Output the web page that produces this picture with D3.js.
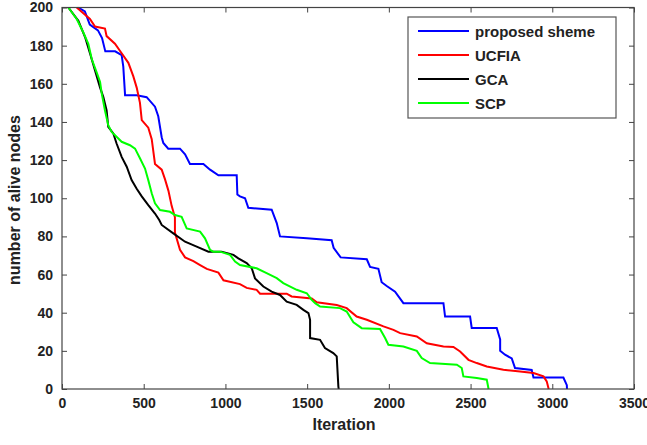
<!DOCTYPE html>
<html>
<head>
<meta charset="utf-8">
<script src="https://cdn.jsdelivr.net/npm/d3@7"></script>
<style>
  body { margin: 0; background: #fff; }
  text { font-family: "Liberation Sans", Arial, sans-serif; font-weight: bold; fill: #222; }
</style>
</head>
<body>
<div id="chart-area"></div>
<script>
// Series values: [iteration, alive nodes]
var proposed = [[100,200],[140,198],[170,191],[220,188],[245,184],[265,177],[325,177],[365,175],[375,169],[386,154],
    [457,154],[518,153],[569,148],[589,143],[610,132],[620,129],[650,126],[722,126],[753,123],[783,118],[865,118],
    [906,115],[957,112],[1069,112],[1073,102],[1089,101],[1120,100],[1140,95],[1283,94],[1314,87],[1334,80],
    [1498,79],[1650,78],[1662,74],[1705,69],[1865,68],[1885,64],[1936,63],[1956,56],[1987,54],[2038,51],[2089,45],
    [2334,45],[2344,38],[2497,38],[2507,32],[2660,32],[2681,26],[2681,20],[2711,18],[2752,16],[2772,11],[2874,10],
    [2885,6],[3068,6],[3089,2],[3090,0]];
var ucfia = [[90,200],[171,194],[202,190],[263,189],[273,185],[324,181],[365,176],[406,171],[436,164],[457,158],
    [477,150],[488,141],[528,137],[549,131],[569,118],[610,115],[630,110],[651,104],[671,96],[691,90],[691,82],
    [722,73],[753,69],[804,67],[845,65],[886,63],[957,61],[988,57],[1089,55],[1130,53],[1191,52],[1212,50],
    [1375,50],[1405,48.5],[1528,47.5],[1559,45.5],[1681,44],[1742,42.4],[1803,38],[1865,36.3],[1967,32.8],
    [2028,31],[2069,29.3],[2171,27.5],[2232,24],[2334,22.3],[2395,22],[2436,19.7],[2487,15.3],[2538,13.6],
    [2599,11.8],[2701,10.1],[2803,9.2],[2885,8.4],[2946,6.6],[2966,4],[2978,0]];
var gca = [[39,200],[100,193],[141,184.5],[171,176],[202,167],[233,158],[253,153],[273,146],[283,137.4],[314,134],
    [334,128.7],[365,121.7],[396,116.5],[426,109.5],[457,105],[488,101],[528,96.4],[569,92],[595,88.6],[610,86],
    [681,81.6],[753,77.2],[824,74.6],[896,72],[977,72],[1049,70.3],[1079,68.5],[1130,66],[1161,63.3],[1181,58],
    [1232,53.7],[1283,51],[1334,49.3],[1375,45.8],[1436,44.1],[1477,41.5],[1508,39.8],[1518,36.3],[1518,26.7],
    [1579,25.8],[1609,21.5],[1660,18.8],[1681,17.1],[1691,1.4],[1693,0]];
var scp = [[39,200],[90,194],[130,187],[161,181],[182,173],[212,166],[233,161],[243,155],[263,146],[283,138.3],
    [304,134.8],[365,129.6],[416,127.8],[447,126],[477,121],[508,115.6],[528,109.5],[549,102.6],[569,97.3],
    [600,93.8],[661,92.9],[691,91.2],[732,90.3],[763,84.2],[845,82.5],[875,79],[906,72.9],[926,72],[967,72],
    [1028,70.3],[1059,66.8],[1089,65],[1191,63.3],[1252,60.7],[1314,58.1],[1354,55.5],[1436,52],[1498,50.2],
    [1528,46.7],[1549,45],[1579,43.2],[1701,42.4],[1742,40.6],[1783,35],[1834,31.9],[1946,31.5],[1977,26.7],
    [1997,23.2],[2089,22.3],[2171,20],[2201,16.2],[2252,13.6],[2416,12.7],[2446,11],[2456,6.6],[2538,5.8],
    [2599,4.9],[2609,0.5],[2610,0]];

var seriesNames = ["proposed sheme", "UCFIA", "GCA", "SCP"];
var seriesColors = ["#0000ff", "#ff0000", "#000000", "#00ff00"];
var seriesData = [proposed, ucfia, gca, scp];
var xTicks = [0, 500, 1000, 1500, 2000, 2500, 3000, 3500];
var yTicks = [0, 20, 40, 60, 80, 100, 120, 140, 160, 180, 200];

var margin = { left: 62, right: 13, top: 7.5, bottom: 56 },
    width = 647 - margin.left - margin.right,
    height = 445 - margin.top - margin.bottom;

var svg = d3.select("#chart-area").append("svg")
    .attr("width", 647)
    .attr("height", 445);

var g = svg.append("g")
    .attr("transform", "translate(" + margin.left + "," + margin.top + ")");

var x = d3.scaleLinear().domain([0, 3500]).range([0, width]);
var y = d3.scaleLinear().domain([0, 200]).range([height, 0]);

g.append("clipPath").attr("id", "plot-clip")
  .append("rect")
    .attr("x", -1).attr("y", -1)
    .attr("width", width + 2).attr("height", height + 2);

// Axes: ticks point inward like MATLAB
var axisColor = "#444";
var fmt = d3.format("d");
function styleAxis(sel) {
    sel.select(".domain").remove();
    sel.selectAll(".tick line").attr("stroke", axisColor);
    sel.selectAll(".tick text").attr("fill", "#222").style("font-size", "14px").style("font-weight", "bold");
}

g.append("g")
    .attr("transform", "translate(0," + height + ")")
    .call(d3.axisBottom(x).tickValues(xTicks).tickSize(-5).tickPadding(9).tickFormat(fmt))
    .call(styleAxis);
g.append("g")
    .call(d3.axisTop(x).tickValues(xTicks).tickSize(-5).tickFormat(""))
    .call(styleAxis);
g.append("g")
    .call(d3.axisLeft(y).tickValues(yTicks).tickSize(-5).tickPadding(9).tickFormat(fmt))
    .call(styleAxis);
g.append("g")
    .attr("transform", "translate(" + width + ",0)")
    .call(d3.axisRight(y).tickValues(yTicks).tickSize(-5).tickFormat(""))
    .call(styleAxis);

// Lines
var line = d3.line()
    .x(function(d) { return x(d[0]); })
    .y(function(d) { return y(d[1]); });

g.append("g").attr("clip-path", "url(#plot-clip)")
  .selectAll(".series")
    .data(seriesData)
  .enter().append("path")
    .attr("class", "series")
    .attr("fill", "none")
    .attr("stroke", function(d, i) { return seriesColors[i]; })
    .attr("stroke-width", 2)
    .attr("d", line);

// Box around the plot
g.append("rect")
    .attr("width", width)
    .attr("height", height)
    .attr("fill", "none")
    .attr("stroke", axisColor)
    .attr("stroke-width", 1.2);

// Axis labels
svg.append("text")
    .attr("x", 344)
    .attr("y", 430)
    .attr("text-anchor", "middle")
    .style("font-size", "16px")
    .text("Iteration");
svg.append("text")
    .attr("transform", "translate(20," + 200 + ") rotate(-90)")
    .attr("text-anchor", "middle")
    .style("font-size", "16px")
    .text("number of alive nodes");

// Legend
var legend = svg.append("g").attr("transform", "translate(408,17)");
legend.append("rect")
    .attr("width", 208)
    .attr("height", 101)
    .attr("fill", "#fff")
    .attr("stroke", "#555")
    .attr("stroke-width", 1.2);
var items = legend.selectAll(".item")
    .data(seriesNames)
  .enter().append("g")
    .attr("class", "item")
    .attr("transform", function(d, i) { return "translate(0," + (14 + i * 24) + ")"; });
items.append("line")
    .attr("x1", 10).attr("x2", 61)
    .attr("stroke", function(d, i) { return seriesColors[i]; })
    .attr("stroke-width", 2);
items.append("text")
    .attr("x", 67)
    .attr("y", 5.5)
    .style("font-size", "15px")
    .text(function(d) { return d; });
</script>
</body>
</html>
